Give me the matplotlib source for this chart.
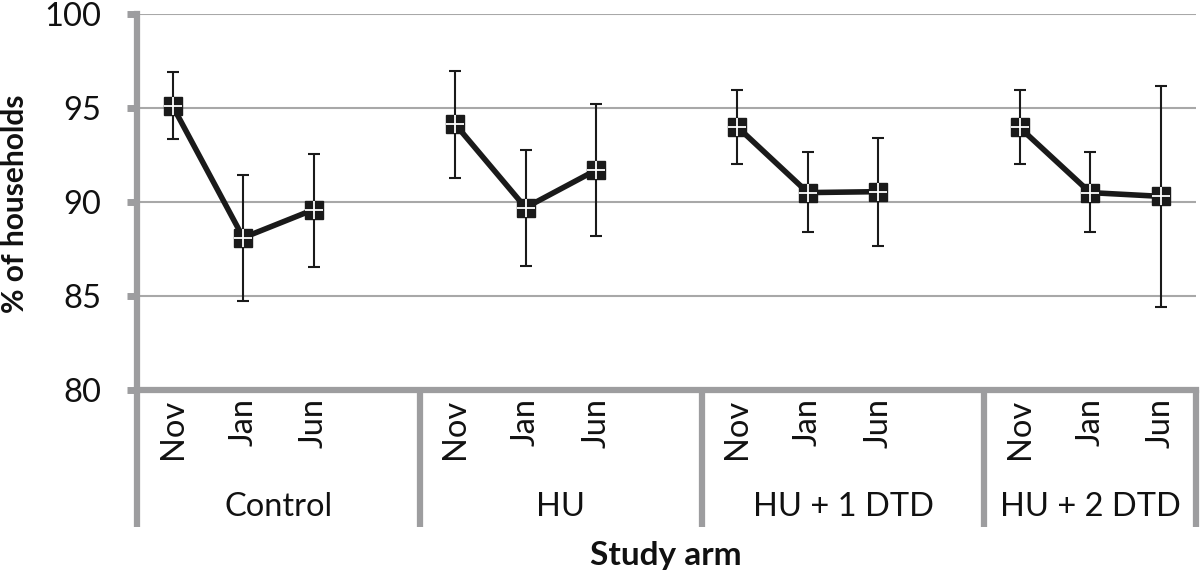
import numpy as np
import matplotlib
matplotlib.use("Agg")
import matplotlib.pyplot as plt
from matplotlib.transforms import blended_transform_factory

plt.rcParams['font.family'] = ['Lato', 'DejaVu Sans']

groups = ["Control", "HU", "HU + 1 DTD", "HU + 2 DTD"]
months = ["Nov", "Jan", "Jun"]
values = [
    [95.1, 88.1, 89.6],
    [94.15, 89.7, 91.7],
    [94.0, 90.5, 90.55],
    [93.97, 90.5, 90.3],
]
err_low = [
    [93.33, 84.73, 86.56],
    [91.28, 86.60, 88.17],
    [92.0, 88.40, 87.66],
    [92.0, 88.40, 84.41],
]
err_high = [
    [96.9, 91.44, 92.55],
    [96.98, 92.75, 95.2],
    [95.97, 92.64, 93.42],
    [95.97, 92.64, 96.19],
]
yticks = [80, 85, 90, 95, 100]

GRAY = "#9D9D9F"
GRID = "#A8A8A8"
TXT = "#111111"

fig = plt.figure(figsize=(12, 5.75), dpi=100)
ax = fig.add_axes([137.4 / 1200, 1 - 390 / 575, (1196 - 137.4) / 1200, 376 / 575])

slots_per_group = 4
n_slots = slots_per_group * (len(groups) - 1) + len(months)

tick_pos, tick_lab = [], []
for g, name in enumerate(groups):
    xs = np.arange(len(months)) + g * slots_per_group
    v = np.array(values[g])
    lo = v - np.array(err_low[g])
    hi = np.array(err_high[g]) - v
    ax.errorbar(xs, v, yerr=[lo, hi], fmt='none', ecolor='#1a1a1a',
                elinewidth=1.5, capsize=4.6, capthick=1.5, zorder=3)
    ax.plot(xs, v, color='#1a1a1a', lw=4.0, zorder=4, solid_capstyle='butt')
    ax.plot(xs, v, ls='none', marker='s', ms=13.5, color='#1a1a1a',
            mec='#1a1a1a', zorder=5)
    ax.plot(xs, v, ls='none', marker='+', ms=13.5, mew=1.3, color='white',
            zorder=6)
    tick_pos.extend(xs)
    tick_lab.extend(months)

ax.set_xlim(-0.5, n_slots - 0.5)
ax.set_ylim(80, 100)
ax.set_yticks(yticks)
ax.set_yticklabels([str(t) for t in yticks], fontsize=23.5, color=TXT)
ax.yaxis.grid(True, color=GRID, lw=1.5, zorder=0)
ax.set_axisbelow(True)

ax.set_xticks(tick_pos)
ax.set_xticklabels(tick_lab, rotation=90, fontsize=23.5, color=TXT)
ax.tick_params(axis='x', length=0, pad=6)
ax.tick_params(axis='y', length=7, width=5, color=GRAY, pad=19)

for s in ['top', 'right']:
    ax.spines[s].set_visible(False)
for s in ['left', 'bottom']:
    ax.spines[s].set_color(GRAY)
    ax.spines[s].set_linewidth(4.5)
ax.spines['bottom'].set_zorder(7)

trans = blended_transform_factory(ax.transData, ax.transAxes)
bounds = [-0.5 + g * slots_per_group for g in range(len(groups))] + [n_slots - 0.5]
for b in bounds:
    ax.plot([b, b], [0, -0.365], transform=trans, color=GRAY, lw=4.5,
            clip_on=False, solid_capstyle='butt')
for g, name in enumerate(groups):
    c = (bounds[g] + bounds[g + 1]) / 2
    ax.text(c, -0.31, name, transform=trans, ha='center', va='center',
            fontsize=23.5, color=TXT)

fig.text(15 / 1200, 1 - 204 / 575, "% of households", rotation=90,
         ha='center', va='center', fontsize=21.5, fontweight='bold', color=TXT)
fig.text(666 / 1200, 1 - 555 / 575, "Study arm", ha='center', va='center',
         fontsize=24, fontweight='bold', color=TXT)

fig.savefig("out.png", dpi=100, facecolor='white')
